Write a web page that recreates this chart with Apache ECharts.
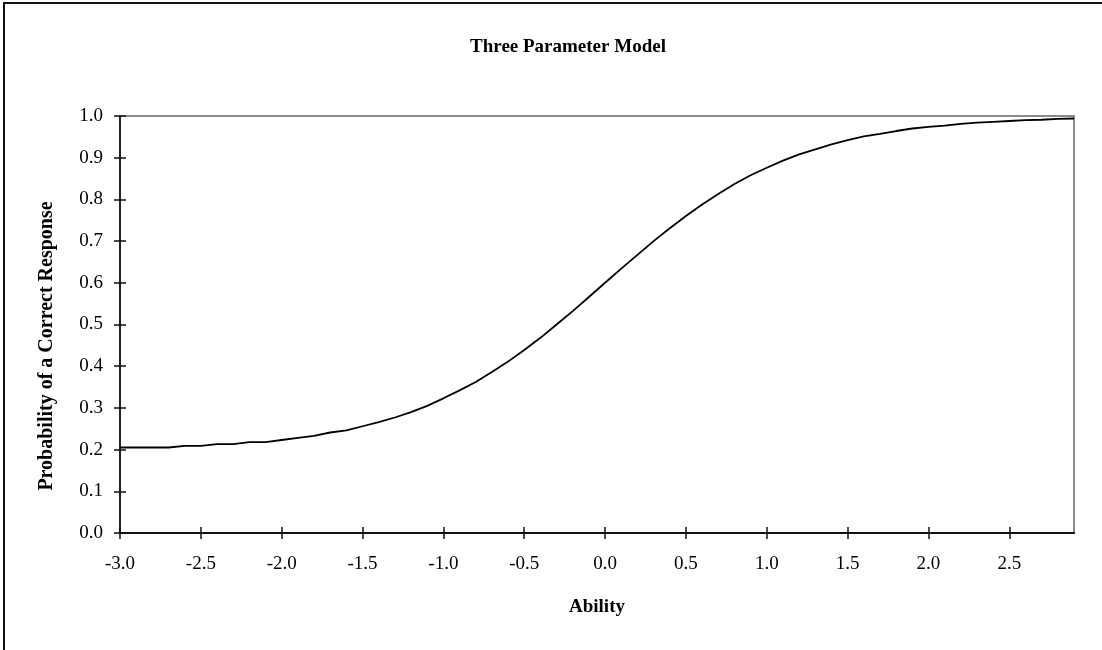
<!DOCTYPE html>
<html>
<head>
<meta charset="utf-8">
<script src="https://cdn.jsdelivr.net/npm/echarts@6/dist/echarts.min.js"></script>
<style>
html,body{margin:0;padding:0;background:#fff;}
#chart{width:1102px;height:650px;}
</style>
</head>
<body>
<div id="chart"></div>
<script>
const chartTitle = 'Three Parameter Model';
const xTitle = 'Ability';
const yTitle = 'Probability of a Correct Response';
const ability = ['-3.0','-2.9','-2.8','-2.7','-2.6','-2.5','-2.4','-2.3','-2.2','-2.1',
  '-2.0','-1.9','-1.8','-1.7','-1.6','-1.5','-1.4','-1.3','-1.2','-1.1',
  '-1.0','-0.9','-0.8','-0.7','-0.6','-0.5','-0.4','-0.3','-0.2','-0.1',
  '0.0','0.1','0.2','0.3','0.4','0.5','0.6','0.7','0.8','0.9',
  '1.0','1.1','1.2','1.3','1.4','1.5','1.6','1.7','1.8','1.9',
  '2.0','2.1','2.2','2.3','2.4','2.5','2.6','2.7','2.8','2.9'];
const probability = [0.205,0.205,0.205,0.205,0.209,0.209,0.213,0.213,0.218,0.218,
  0.223,0.228,0.233,0.241,0.246,0.256,0.266,0.277,0.290,0.305,
  0.323,0.342,0.362,0.386,0.411,0.439,0.468,0.500,0.532,0.566,
  0.600,0.634,0.667,0.700,0.731,0.760,0.788,0.813,0.837,0.858,
  0.876,0.893,0.908,0.920,0.932,0.942,0.951,0.957,0.964,0.970,
  0.974,0.977,0.981,0.984,0.986,0.988,0.990,0.991,0.993,0.994];
const yTicks = [0.0,0.1,0.2,0.3,0.4,0.5,0.6,0.7,0.8,0.9,1.0];

const serif = '"Liberation Serif","Times New Roman",serif';
const chart = echarts.init(document.getElementById('chart'));
chart.setOption({
  animation: false,
  backgroundColor: '#fff',
  title: {
    text: chartTitle, left: 563, top: 33, textAlign: 'center',
    textStyle: {fontFamily: serif, fontWeight: 'bold', fontSize: 19, color: '#000'}
  },
  grid: {left: 120, right: 28, top: 116, bottom: 117, show: true, borderColor: '#8a8a8a', borderWidth: 2, containLabel: false},
  xAxis: [{
    type: 'category', data: ability, boundaryGap: false,
    axisLine: {lineStyle: {color: '#111', width: 2}},
    axisTick: {interval: 4, length: 6, lineStyle: {color: '#111', width: 1.5}},
    axisLabel: {interval: 4, margin: 22, fontFamily: serif, fontSize: 19, color: '#000'},
    splitLine: {show: false}
  }, {
    type: 'category', data: ability, boundaryGap: false, position: 'bottom',
    axisLine: {show: false},
    axisTick: {inside: true, interval: 4, length: 6, lineStyle: {color: '#111', width: 1.5}},
    axisLabel: {show: false}, splitLine: {show: false}
  }],
  yAxis: [{
    type: 'value', min: 0, max: 1, interval: 0.1,
    axisLine: {show: true, lineStyle: {color: '#222', width: 2}},
    axisTick: {show: true, length: 6, lineStyle: {color: '#111', width: 1.5}},
    axisLabel: {margin: 17, fontFamily: serif, fontSize: 19, color: '#000', formatter: v => v.toFixed(1)},
    splitLine: {show: false}
  }, {
    type: 'value', min: 0, max: 1, interval: 0.1, position: 'left',
    axisLine: {show: false},
    axisTick: {show: true, inside: true, length: 6, lineStyle: {color: '#111', width: 1.5}},
    axisLabel: {show: false}, splitLine: {show: false}
  }],
  graphic: [
    {type: 'rect', shape: {x: 4, y: 3, width: 1300, height: 900}, style: {fill: null, stroke: '#111', lineWidth: 2}, silent: true, z: -1},
    {type: 'text', x: 597, y: 607, style: {text: xTitle, fontFamily: serif, fontWeight: 'bold', fontSize: 19, fill: '#000', align: 'center', verticalAlign: 'middle'}},
    {type: 'text', x: 47, y: 346, rotation: Math.PI / 2, style: {text: yTitle, fontFamily: serif, fontWeight: 'bold', fontSize: 20, fill: '#000', align: 'center', verticalAlign: 'middle'}}
  ],
  series: [{
    type: 'line', data: probability, xAxisIndex: 0, yAxisIndex: 0,
    showSymbol: false, symbol: 'none', smooth: false,
    lineStyle: {color: '#000', width: 1.8}
  }]
});
</script>
</body>
</html>
